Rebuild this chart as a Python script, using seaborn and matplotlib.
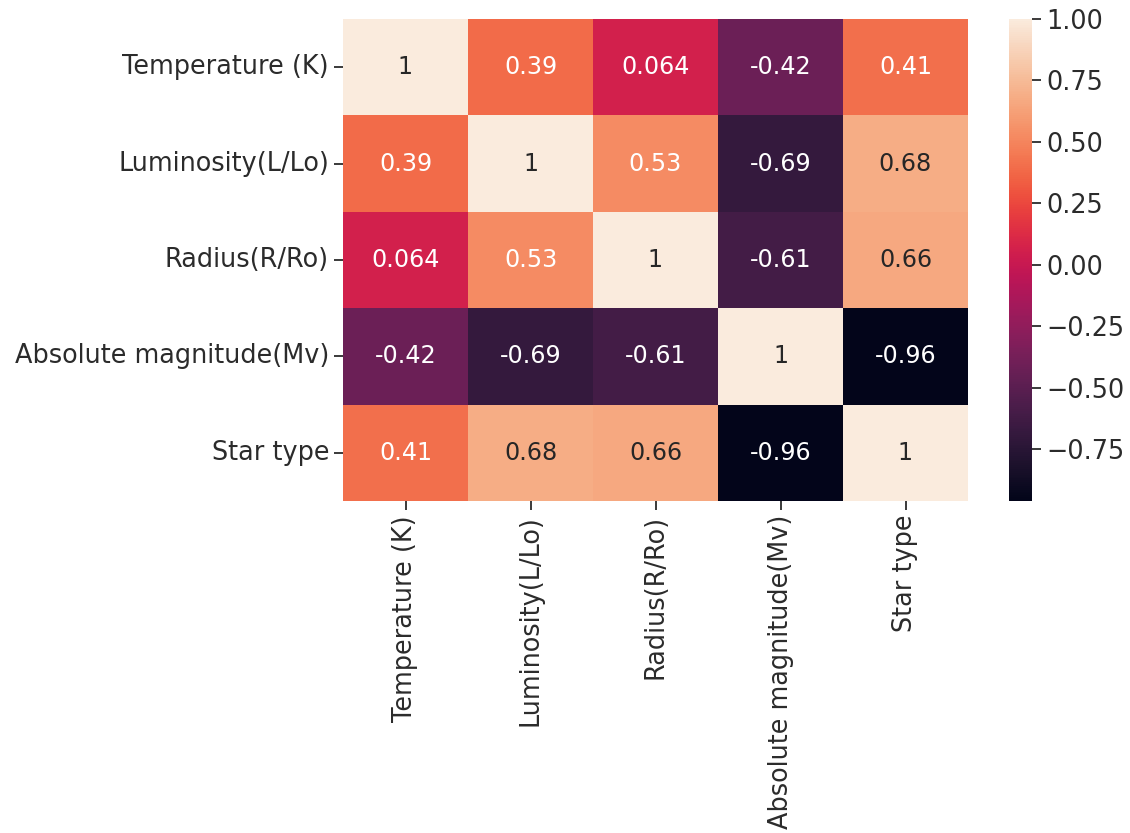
import numpy as np
import pandas as pd
import seaborn as sns
import matplotlib
matplotlib.use("Agg")
import matplotlib.pyplot as plt

# Correlation matrix of star properties
labels = ["Temperature (K)", "Luminosity(L/Lo)", "Radius(R/Ro)",
          "Absolute magnitude(Mv)", "Star type"]
row_temperature = [1.0, 0.39, 0.064, -0.42, 0.41]
row_luminosity = [0.39, 1.0, 0.53, -0.69, 0.68]
row_radius = [0.064, 0.53, 1.0, -0.61, 0.66]
row_abs_mag = [-0.42, -0.69, -0.61, 1.0, -0.96]
row_star_type = [0.41, 0.68, 0.66, -0.96, 1.0]

corr = pd.DataFrame([row_temperature, row_luminosity, row_radius,
                     row_abs_mag, row_star_type],
                    index=labels, columns=labels)

fs = 18.4
text_color = "#2b2b2b"
plt.rcParams["font.size"] = fs
fig = plt.figure(figsize=(11.3, 8.33), dpi=100)
ax = fig.add_axes([343 / 1130, 1 - 501 / 833, (968 - 343) / 1130, (501 - 19) / 833])
cax = fig.add_axes([1009 / 1130, 1 - 501 / 833, (1032 - 1009) / 1130, (501 - 19) / 833])

sns.heatmap(corr, annot=True, ax=ax, cbar_ax=cax,
            annot_kws={"fontsize": 17.2})
ax.tick_params(axis="both", labelsize=fs, length=6.5, width=1.3,
               color=text_color, labelcolor=text_color)
cax.set_yticks([-0.75, -0.5, -0.25, 0.0, 0.25, 0.5, 0.75, 1.0])
cax.tick_params(labelsize=fs, length=6.5, width=1.3,
                color=text_color, labelcolor=text_color)
ax.set_xticklabels(labels, rotation=90)
ax.set_yticklabels(labels, rotation=0)

fig.savefig("out.png", dpi=100)
